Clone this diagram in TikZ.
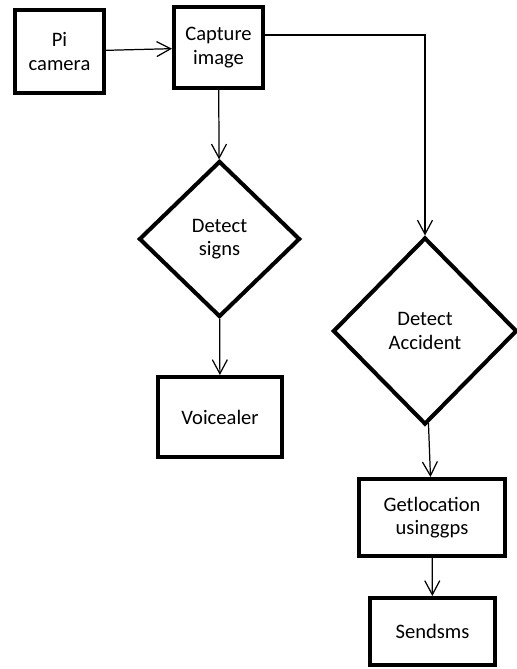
\documentclass[tikz,border=0pt]{standalone}
\usepackage{fontspec}
\setmainfont{Carlito}
\usetikzlibrary{shapes,arrows.meta}

\begin{document}
\begin{tikzpicture}[>={Straight Barb[length=2.8mm,width=3mm]},
  box/.style={draw, rectangle, line width=2.3pt, align=center, inner sep=0pt},
  decision/.style={draw, diamond, line width=2.3pt, align=center, inner sep=0pt},
  link/.style={->, line width=0.7pt},
  font=\fontsize{11.7}{13.2}\selectfont]
% page frame
\useasboundingbox (0,0) rectangle (10.34,13.38);

% camera side
\node[box, minimum width=1.78cm, minimum height=1.66cm] (pi) at (1.19,12.35) {Pi\\camera};
\node[box, minimum width=1.78cm, minimum height=1.62cm] (capture) at (4.37,12.43) {Capture\\image};

% sign branch
\node[decision, minimum width=3.22cm, minimum height=3.12cm] (signs) at (4.39,8.60) {Detect\\signs};
\node[box, minimum width=2.48cm, minimum height=1.60cm] (voice) at (4.40,5.04) {Voicealer};

% accident branch
\node[decision, minimum width=3.68cm, minimum height=3.74cm] (accident) at (8.50,6.76) {Detect\\Accident};
\node[box, minimum width=2.92cm, minimum height=1.54cm] (getloc) at (8.64,3.03) {Getlocation\\usinggps};
\node[box, minimum width=2.50cm, minimum height=1.34cm] (sms) at (8.65,0.75) {Sendsms};

\draw[link] (pi) -- (capture);
\draw[link] (capture) -- (signs);
\draw[link] ([yshift=0.25cm]capture.east) -| (accident.north);
\draw[link] (signs) -- (voice);
\draw[link] (accident) -- (getloc);
\draw[link] (getloc) -- (sms);
\end{tikzpicture}
\end{document}
